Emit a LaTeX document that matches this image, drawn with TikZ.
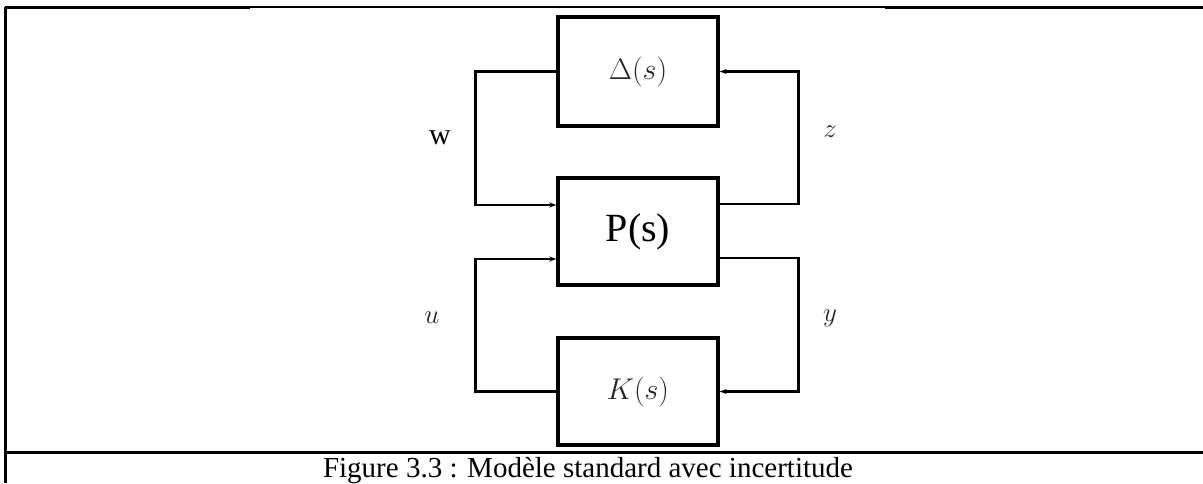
\documentclass[tikz,border=0pt]{standalone}
\usepackage{fix-cm}
\usepackage[no-math]{fontspec}
\setmainfont{Liberation Serif}
\newfontfamily\timesfont{Liberation Serif}
\usetikzlibrary{arrows.meta, positioning}
\tikzstyle{block} = [draw, line width=3.5pt, minimum width=160pt, minimum height=107pt, inner sep=0pt]
\tikzstyle{wire} = [line width=2.6pt]
\tikzstyle{signal} = [font=\fontsize{27}{29}\selectfont, text=black!85]
\tikzstyle{rule} = [line width=3pt]

\begin{document}
\begin{tikzpicture}[x=1pt, y=-1pt, >={Stealth[length=7pt, width=5pt]}]
    \useasboundingbox (0,0) rectangle (1203,483);

    % Table frame
    \draw[rule] (5,7) -- (250,7);
    \draw[line width=1.5pt] (250,7) -- (885,7);
    \draw[rule] (885,7) -- (1203,7);
    \draw[rule] (5,7) -- (5,483);
    \draw[rule] (5,452) -- (1203,452);

    % Blocks
    \node[block, minimum height=109pt, text=black!85, font=\fontsize{30}{32}\selectfont] (delta) at (638, 71.5) {$\Delta(s)$};
    \node[block, font=\timesfont\fontsize{29}{32}\selectfont] (plant) at (638, 231.5) {\scalebox{1.38}{P(s)}};
    \node[block, text=black!85, font=\fontsize{30}{32}\selectfont] (ctrl) at (638, 391.5) {$K(s)$};

    % Uncertainty loop
    \draw[wire, ->] (delta.west) -- ++(-81,0) |- ([yshift=26.5pt]plant.west);
    \draw[wire, ->] ([yshift=27.5pt]plant.east) -- ++(79,0) |- (delta.east);

    % Control loop
    \draw[wire, ->] (ctrl.west) -- ++(-81,0) |- ([yshift=-27.5pt]plant.west);
    \draw[wire, ->] ([yshift=-26.5pt]plant.east) -- ++(79,0) |- (ctrl.east);

    % Signal labels
    \node[font=\timesfont\fontsize{30}{32}\selectfont] (wlabel) at (440, 138) {w};
    \node[signal] (zlabel) at (830, 132) {$z$};
    \node[signal] (ulabel) at (432, 318) {$u$};
    \node[signal] (ylabel) at (830, 318) {$y$};

    % Caption
    \node[font=\timesfont\fontsize{29}{32}\selectfont, anchor=base] (caption) at (588, 477) {Figure 3.3 : Modèle standard avec incertitude};
\end{tikzpicture}
\end{document}
